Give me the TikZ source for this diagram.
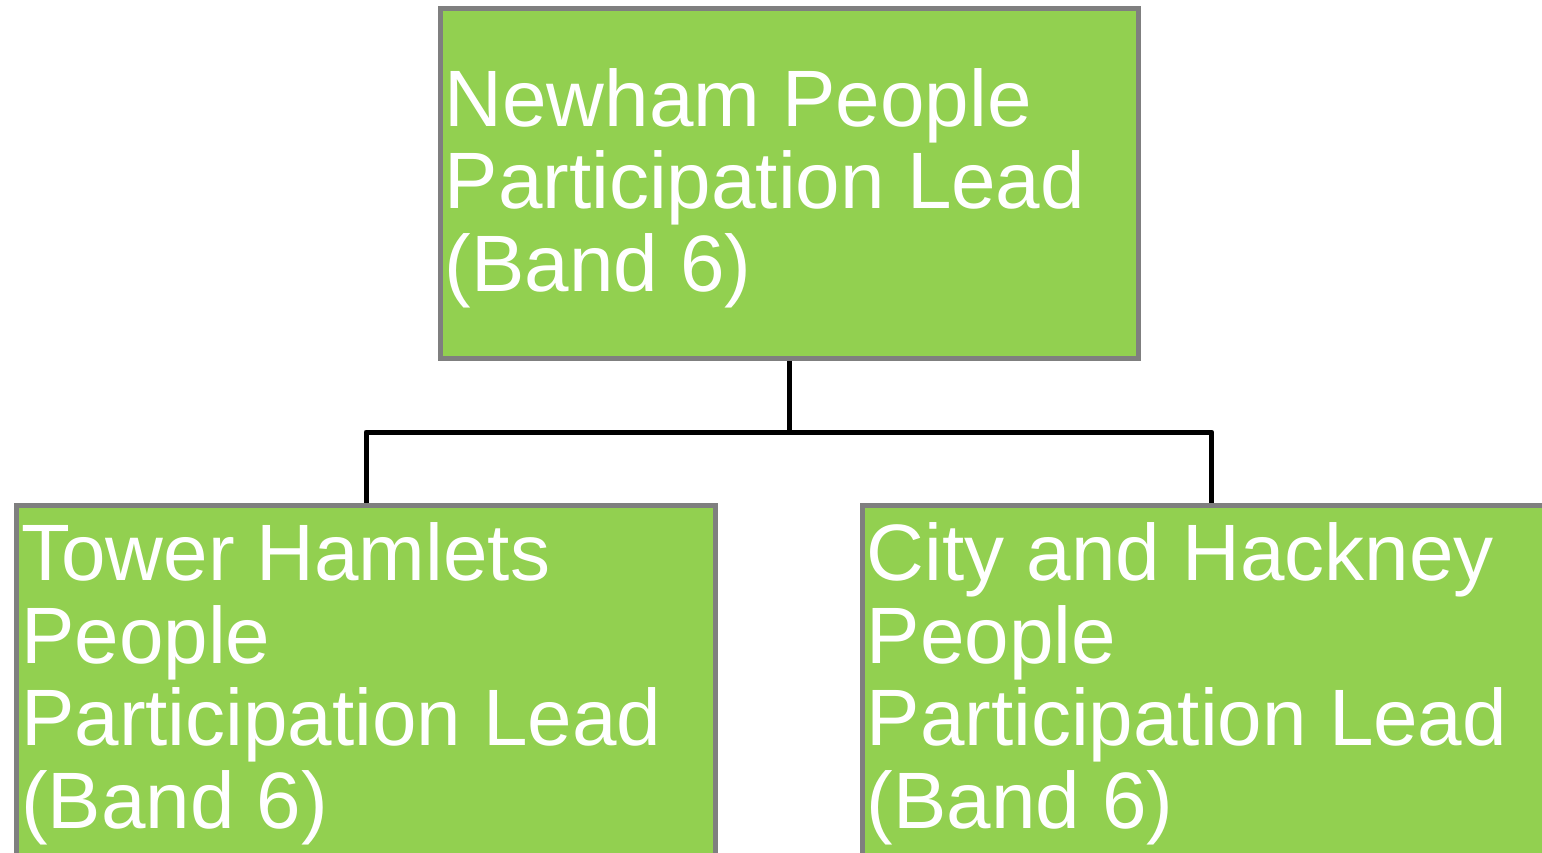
\documentclass[tikz,border=0pt]{standalone}
\usepackage{fontspec}
\setmainfont{Liberation Sans}
\definecolor{leafgreen}{HTML}{92D050}
\definecolor{edgegray}{HTML}{7F7F7F}
\begin{document}
\begin{tikzpicture}[x=1pt,y=-1pt,
  rolebox/.style={rectangle, draw=edgegray, line width=5pt, fill=leafgreen,
    minimum width=698.5pt, minimum height=349.8pt, inner sep=0pt},
  roletext/.style={anchor=base west, inner sep=0pt, text=white,
    font=\fontsize{80}{82.5}\selectfont},
  link/.style={draw=black, line width=5pt, line join=round}]
\useasboundingbox (0,0) rectangle (1542,852);
\clip (0,0) rectangle (1542,852);

% boxes
\node[rolebox] (newham) at (789.25,183.4) {};
\node[rolebox] (tower)  at (366,680.1) {};
\node[rolebox] (city)   at (1211.8,680.1) {};

% labels
\node[roletext] (newhamtxt) at (444.5,126)
  {\parbox[t]{690pt}{\raggedright Newham People\\Participation Lead\\(Band 6)}};
\node[roletext] (towertxt) at (21,580.7)
  {\parbox[t]{690pt}{\raggedright Tower Hamlets\\People\\Participation Lead\\(Band 6)}};
\node[roletext] (citytxt) at (866.5,580.7)
  {\parbox[t]{690pt}{\raggedright City and Hackney\\People\\Participation Lead\\(Band 6)}};

% reporting lines
\coordinate (hub) at (789.25,432);
\draw[link] (newham.south) -- (hub);
\draw[link] (hub) -| (tower.north);
\draw[link] (hub) -| (city.north);
\end{tikzpicture}
\end{document}
